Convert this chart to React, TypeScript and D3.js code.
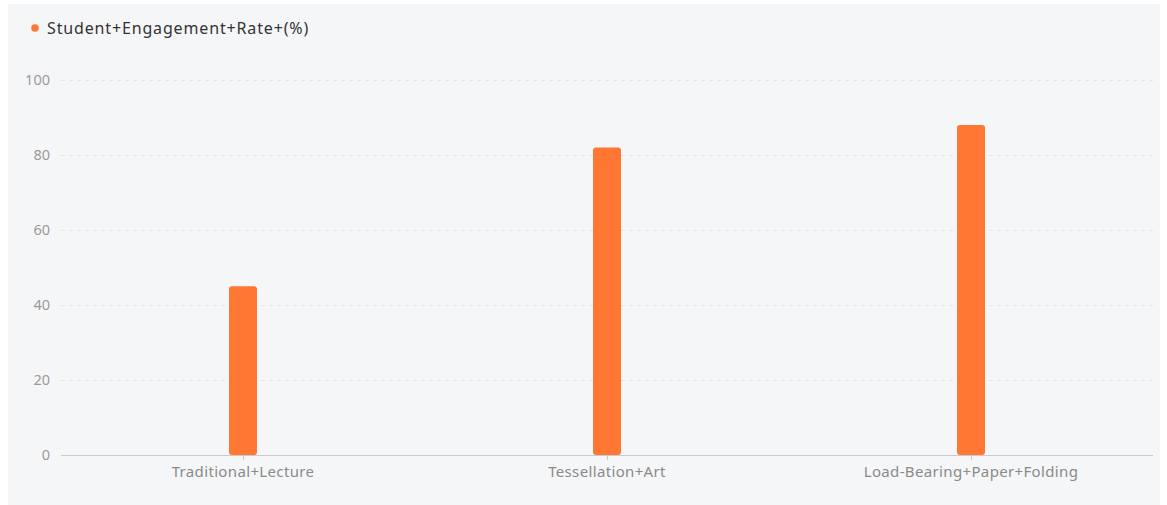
import React from "react";
import * as d3 from "d3";

const categories = ["Traditional+Lecture", "Tessellation+Art", "Load-Bearing+Paper+Folding"];
const values = [45, 82, 88];
const yTicks = [0, 20, 40, 60, 80, 100];
const seriesName = "Student+Engagement+Rate+(%)";

const W = 1167;
const H = 505;
const margin = { left: 61, right: 14, top: 80, bottom: 50 };

export default function App() {
  const x = d3
    .scaleBand<string>()
    .domain(categories)
    .range([margin.left, W - margin.right])
    .paddingInner(0)
    .paddingOuter(0);
  const y = d3.scaleLinear().domain([0, 100]).range([H - margin.bottom, margin.top]);
  const barW = 28;
  const font = "'Noto Sans', 'Open Sans', sans-serif";

  return (
    <svg
      width={W}
      height={H}
      style={{ position: "absolute", left: 0, top: 0, display: "block" }}
      fontFamily={font}
    >
      <rect x={0} y={0} width={W} height={H} fill="#ffffff" />
      <rect x={8} y={4} width={1152} height={H - 4} fill="#f5f6f8" />
      {/* legend */}
      <circle cx={35} cy={28} r={3.8} fill="#ff7733" />
      <text x={47} y={33.5} fontSize={16} letterSpacing={0.85} fill="#333">
        {seriesName}
      </text>
      {/* grid */}
      {yTicks.map((t) => (
        <g key={t}>
          {t > 0 && (
            <line
              x1={margin.left}
              x2={W - margin.right}
              y1={y(t) + 0.5}
              y2={y(t) + 0.5}
              stroke="#e3e5e8"
              strokeDasharray="4 4"
            />
          )}
          <text x={50} y={y(t) + 5} fontSize={14.5} fill="#9a9a9a" textAnchor="end">
            {t}
          </text>
        </g>
      ))}
      {/* bars */}
      {categories.map((c, i) => {
        const cx = (x(c) ?? 0) + x.bandwidth() / 2;
        return (
          <rect
            key={c}
            x={cx - barW / 2}
            y={y(values[i])}
            width={barW}
            height={y(0) - y(values[i])}
            rx={3}
            ry={3}
            fill="#ff7733"
          />
        );
      })}
      {/* x axis */}
      <line
        x1={margin.left}
        x2={W - margin.right}
        y1={y(0) + 0.5}
        y2={y(0) + 0.5}
        stroke="#c8cacd"
      />
      {categories.map((c) => {
        const cx = (x(c) ?? 0) + x.bandwidth() / 2;
        return (
          <g key={c}>
            <line x1={cx + 0.5} x2={cx + 0.5} y1={y(0)} y2={y(0) + 5} stroke="#c8cacd" />
            <text x={cx} y={y(0) + 22} fontSize={15} letterSpacing={0.35} fill="#8a8a8a" textAnchor="middle">
              {c}
            </text>
          </g>
        );
      })}
    </svg>
  );
}
